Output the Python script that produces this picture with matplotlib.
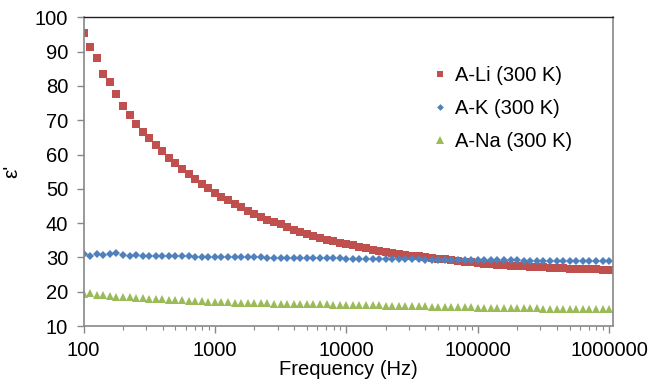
import matplotlib
matplotlib.use("Agg")
import matplotlib.pyplot as plt
from matplotlib.ticker import FixedLocator, LogLocator, NullFormatter

plt.rcParams['font.family'] = ['Liberation Sans', 'DejaVu Sans']

# measurement frequencies (Hz), 20 points per decade
freq = [100, 112, 126, 141, 158, 178, 200, 224, 251, 282,
        316, 355, 398, 447, 501, 562, 631, 708, 794, 891,
        1000, 1122, 1259, 1413, 1585, 1778, 1995, 2239, 2512, 2818,
        3162, 3548, 3981, 4467, 5012, 5623, 6310, 7079, 7943, 8913,
        10000, 11220, 12589, 14125, 15849, 17783, 19953, 22387, 25119, 28184,
        31623, 35481, 39811, 44668, 50119, 56234, 63096, 70795, 79433, 89125,
        100000, 112202, 125893, 141254, 158489, 177828, 199526, 223872, 251189, 281838,
        316228, 354813, 398107, 446684, 501187, 562341, 630957, 707946, 794328, 891251,
        1000000]

eps_li = [95.3, 91.4, 88.2, 83.5, 81.0, 77.7, 74.0, 71.5, 68.8, 66.7, 64.8,
          62.9, 60.9, 59.0, 57.5, 55.7, 54.3, 52.9, 51.5, 50.3, 48.9,
          47.7, 46.75, 45.6, 44.6, 43.6, 42.7, 41.8, 41.0, 40.2, 39.6,
          38.8, 38.1, 37.4, 36.8, 36.2, 35.8, 35.2, 34.7, 34.2, 33.9,
          33.5, 33.1, 32.7, 32.3, 32.0, 31.7, 31.4, 31.1, 30.8, 30.5,
          30.3, 30.0, 29.8, 29.6, 29.4, 29.1, 29.0, 28.8, 28.6, 28.4,
          28.2, 28.05, 27.9, 27.75, 27.6, 27.5, 27.4, 27.3, 27.2, 27.1,
          27.0, 26.9, 26.8, 26.75, 26.7, 26.6, 26.55, 26.5, 26.45, 26.4]

eps_k = [31.1, 30.5, 30.9, 30.7, 30.9, 31.3, 30.7, 30.5, 30.6, 30.5, 30.5,
         30.3, 30.4, 30.4, 30.3, 30.4, 30.3, 30.2, 30.2, 30.1, 30.2,
         30.1, 30.1, 30.1, 30.0, 30.0, 30.0, 30.0, 29.95, 29.9, 29.9,
         29.9, 29.85, 29.8, 29.8, 29.8, 29.75, 29.7, 29.7, 29.7, 29.65,
         29.6, 29.6, 29.6, 29.55, 29.5, 29.5, 29.5, 29.45, 29.4, 29.4,
         29.4, 29.35, 29.3, 29.3, 29.3, 29.3, 29.25, 29.2, 29.2, 29.2,
         29.2, 29.15, 29.1, 29.1, 29.1, 29.1, 29.05, 29.0, 29.0, 29.0,
         29.0, 29.0, 28.95, 28.95, 28.9, 28.9, 28.9, 28.9, 28.9, 28.9]

eps_na = [19.3, 19.6, 19.1, 18.9, 18.8, 18.6, 18.5, 18.4, 18.3, 18.2, 18.0,
          17.9, 17.8, 17.7, 17.6, 17.5, 17.4, 17.3, 17.2, 17.1, 17.0,
          16.95, 16.9, 16.85, 16.8, 16.75, 16.7, 16.65, 16.6, 16.55, 16.5,
          16.5, 16.45, 16.4, 16.4, 16.35, 16.3, 16.3, 16.25, 16.2, 16.2,
          16.15, 16.1, 16.05, 16.0, 16.0, 15.95, 15.9, 15.85, 15.8, 15.8,
          15.75, 15.7, 15.65, 15.6, 15.6, 15.55, 15.5, 15.45, 15.4, 15.35,
          15.3, 15.3, 15.25, 15.25, 15.2, 15.2, 15.2, 15.15, 15.15, 15.1,
          15.1, 15.1, 15.05, 15.05, 15.0, 15.0, 15.0, 15.0, 15.0, 15.0]

x_ticks = [100, 1000, 10000, 100000, 1000000]
x_labels = ['100', '1000', '10000', '100000', '1000000']
y_ticks = [10, 20, 30, 40, 50, 60, 70, 80, 90, 100]

fig = plt.figure(figsize=(6.49, 3.86), dpi=100)
ax = fig.add_axes([0.1287, 0.1554, 0.8158, 0.7998])

ax.plot(freq, eps_li, 's', color='#C0504D', ms=5.4, mew=0, label='A-Li (300 K)')
ax.plot(freq, eps_k, 'D', color='#4F81BD', ms=3.8, mew=0, label='A-K (300 K)')
ax.plot(freq, eps_na, '^', color='#9BBB59', ms=6, mew=0, label='A-Na (300 K)')

ax.set_xscale('log')
ax.set_xlim(100, 1.07e6)
ax.set_ylim(10, 100)
ax.xaxis.set_major_locator(FixedLocator(x_ticks))
ax.set_xticklabels(x_labels)
ax.xaxis.set_minor_locator(LogLocator(base=10, subs=range(2, 10)))
ax.xaxis.set_minor_formatter(NullFormatter())
ax.set_yticks(y_ticks)

for side in ['left', 'bottom', 'right']:
    ax.spines[side].set_color('#888888')
    ax.spines[side].set_linewidth(1.2)
ax.spines['top'].set_color('#222222')
ax.spines['top'].set_linewidth(1.0)

ax.tick_params(axis='both', which='major', direction='out', length=5, width=1,
               color='#888888', labelsize=14.5, pad=6)
ax.tick_params(axis='x', which='minor', direction='out', length=3, width=0.8,
               color='#888888')

ax.set_xlabel('Frequency (Hz)', fontsize=14.5, labelpad=0)
ax.set_ylabel("ε'", fontsize=15, labelpad=10)

ax.legend(loc='upper left', bbox_to_anchor=(0.62, 0.9), frameon=False,
          fontsize=14.5, handletextpad=0.25, labelspacing=0.7, markerscale=0.9,
          handlelength=1.0)

fig.savefig('out.png', dpi=100)
